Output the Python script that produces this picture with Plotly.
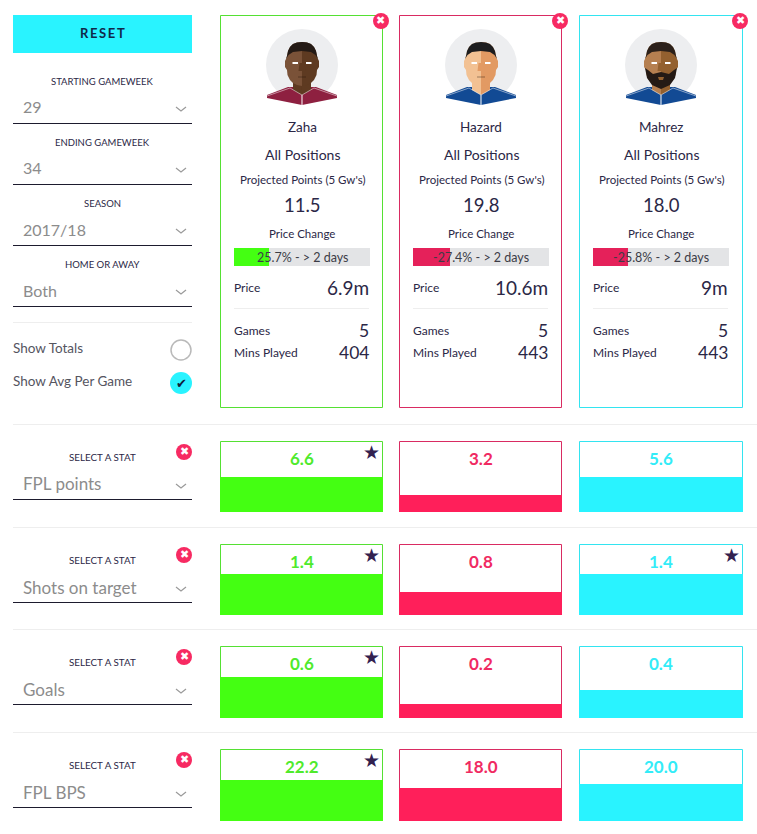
import plotly.graph_objects as go

W = 757
H = 834
FONT = "Lato"

DARK = "#2b2746"
GREY = "#8c8c8c"
LINE = "#eeeeee"
PINK_X = "#f72a62"
CYAN = "#29f3ff"

players = ["Zaha", "Hazard", "Mahrez"]
positions = ["All Positions", "All Positions", "All Positions"]
projected = ["11.5", "19.8", "18.0"]
price_change = [25.7, -27.4, -25.8]
price_change_note = "> 2 days"
prices = ["6.9m", "10.6m", "9m"]
games = ["5", "5", "5"]
mins_played = ["404", "443", "443"]

fill_colors = ["#44ff12", "#ff1f5a", "#29f3ff"]
border_colors = ["#55e033", "#d92b62", "#33e4f0"]
text_colors = ["#4fea2c", "#f02a62", "#33ecf8"]
price_colors = ["#44ff12", "#e5215a", "#e5215a"]

filter_labels = ["STARTING GAMEWEEK", "ENDING GAMEWEEK", "SEASON", "HOME OR AWAY"]
filter_values = ["29", "34", "2017/18", "Both"]

stat_names = ["FPL points", "Shots on target", "Goals", "FPL BPS"]
stat_labels = [
    ["6.6", "3.2", "5.6"],
    ["1.4", "0.8", "1.4"],
    ["0.6", "0.2", "0.4"],
    ["22.2", "18.0", "20.0"],
]
# share of each box that is filled
stat_fill = [
    [49, 24, 49],
    [58, 33, 58],
    [57, 20, 39],
    [57, 46, 52],
]
stat_star = [
    [True, False, False],
    [True, False, True],
    [True, False, False],
    [True, False, False],
]

card_left = [220, 399, 579]
card_right = [383, 562, 743]
card_mid = [302, 481, 661]
bar_left = [234, 413, 593]
row_top = [441, 544, 646, 749]
row_bottom = [512, 615, 718, 821]

skin_light = ["#7a5238", "#f2c193", "#b57f50"]
skin_dark = ["#5e3a21", "#e29a63", "#93602f"]
hair_color = ["#241a15", "#1d1d1f", "#2b201a"]
shirt_color = ["#8e2040", "#124a94", "#124a94"]
has_beard = [False, False, True]

shapes = []
annotations = []


def fx(x):
    return x / W


def fy(y):
    return 1 - y / H


def text(x, y, s, size, color=DARK, anchor="center", bold=False, font=FONT):
    annotations.append(dict(
        x=fx(x), y=fy(y), xref="paper", yref="paper", text=f"<b>{s}</b>" if bold else s,
        showarrow=False, xanchor=anchor, yanchor="middle", borderpad=0, borderwidth=0,
        font=dict(family=font, size=size, color=color),
    ))


def rect(x0, y0, x1, y1, fill, line=None):
    # half pixel keeps the outline crisp
    pad = 0.5 if line else 0
    shapes.append(dict(
        type="rect", xref="paper", yref="paper", x0=fx(x0 + pad), x1=fx(x1 - pad), y0=fy(y0 + pad), y1=fy(y1 - pad),
        fillcolor=fill, line=dict(color=line, width=1) if line else dict(width=0), layer="below",
    ))


def rule(x0, x1, y, color, width=1):
    shapes.append(dict(
        type="line", xref="paper", yref="paper", x0=fx(x0), x1=fx(x1), y0=fy(y + 0.5), y1=fy(y + 0.5),
        line=dict(color=color, width=width), layer="below",
    ))


def circle(cx, cy, r, fill, line=None, width=1.5):
    shapes.append(dict(
        type="circle", xref="paper", yref="paper", x0=fx(cx - r), x1=fx(cx + r),
        y0=fy(cy - r), y1=fy(cy + r), fillcolor=fill,
        line=dict(color=line, width=width) if line else dict(width=0), layer="above",
    ))


def poly(points, fill=None, line=None, width=1):
    d = "M" + " L".join(f"{fx(x):.5f},{fy(y):.5f}" for x, y in points)
    shapes.append(dict(
        type="path", xref="paper", yref="paper", path=d + (" Z" if fill else ""),
        fillcolor=fill, line=dict(color=line, width=width) if line else dict(width=0), layer="above",
    ))


def chevron(cx, cy):
    poly([(cx - 5, cy - 2), (cx, cy + 2), (cx + 5, cy - 2)], line="#9a9a9a", width=1.2)


def close_button(cx, cy):
    circle(cx, cy, 8, PINK_X)
    text(cx, cy - 0.5, "✖", 11, "white", font="DejaVu Sans")


def dropdown(value, y_text, y_line, size=16):
    text(23, y_text - 1, value, size, GREY, "left")
    chevron(181, y_text + 1)
    rule(13, 192, y_line, "#1d1b2e")


def face(i):
    cx = card_mid[i]
    cy = 65
    circle(cx, cy, 36, "#edeef0")

    def at(points, sign=1):
        return [(cx + sign * x, cy + y) for x, y in points]

    poly(at([(0, 40), (-35, 33), (-35, 30), (-14, 22), (14, 22), (35, 30), (35, 33)]), shirt_color[i])
    half = [(0, -23), (5, -22.5), (9, -21), (12, -18), (14, -14), (15, -9), (16, -6), (17, -4), (17, 2),
            (15, 5), (14.5, 10), (12, 15), (9, 18), (5, 20), (0, 21)]
    neck = [(0, 30), (9, 25), (9, 12), (0, 12)]
    hair = [(0, -23), (5, -22.5), (9, -21), (12, -18), (14, -14), (15, -9), (16, -6), (13.5, -10), (9, -13), (0, -14)]
    poly(at(neck, -1), skin_dark[i] if i == 0 else skin_light[i])
    poly(at(neck), skin_dark[i])
    poly(at(half, -1), skin_light[i])
    poly(at(half), skin_dark[i])
    poly(at(hair), hair_color[i])
    poly(at(hair, -1), hair_color[i])
    poly(at([(-2.5, -2), (2.5, -2), (3.5, 6), (-3.5, 6)]), skin_dark[i])
    if has_beard[i]:
        poly(at([(-16, 3), (-13, 5), (-8, 9), (0, 7), (8, 9), (13, 5), (16, 3), (14, 13), (9, 20), (0, 24), (-9, 20), (-14, 13)]), "#241a15")
        poly(at([(-3, 12), (3, 12), (2, 15), (-2, 15)]), skin_dark[i])
    else:
        poly(at([(-4, 12), (4, 12)]), line="rgba(30,15,5,0.4)")
    for sign in (-1, 1):
        poly(at([(4, -3), (9.5, -3), (9.5, -1), (4, -1)], sign), "white")
    poly(at([(-35, 31), (-12, 23), (0, 30), (12, 23), (35, 31)]), line="rgba(255,255,255,0.5)")
    poly(at([(0, 30), (0, 40)]), line="white")


fig = go.Figure()
axis_no = 0


def bar_axes(x0, x1, y0, y1, xrange, yrange):
    global axis_no
    axis_no += 1
    hidden = dict(visible=False, fixedrange=True)
    fig.update_layout(**{
        f"xaxis{axis_no}": dict(domain=[fx(x0), fx(x1)], range=xrange, anchor=f"y{axis_no}", **hidden),
        f"yaxis{axis_no}": dict(domain=[fy(y1), fy(y0)], range=yrange, anchor=f"x{axis_no}", **hidden),
    })
    return f"x{axis_no}", f"y{axis_no}"


# left column
rect(13, 15, 192, 53, CYAN)
text(102.5, 33, "R\u2009E\u2009S\u2009E\u2009T", 13, "#10294a", bold=True)
for n, (label, value) in enumerate(zip(filter_labels, filter_values)):
    text(102, 81 + 61 * n, label, 9.5, DARK)
    dropdown(value, 108 + 61 * n, 123 + 61 * n)
rule(13, 192, 322, LINE)
text(13, 348, "Show Totals", 13.5, "#55555f", "left")
text(13, 381, "Show Avg Per Game", 13.5, "#55555f", "left")
circle(181, 350, 10, "white", "#b9b9b9")
circle(181, 383, 11, CYAN)
text(181, 383, "✔", 13, "#10203a", font="DejaVu Sans")

# player cards
for i, name in enumerate(players):
    rect(card_left[i], 15, card_right[i], 408, "white", border_colors[i])
    face(i)
    close_button(card_left[i] + 161, 21)
    mid = card_mid[i]
    text(mid, 127, name, 13.5)
    text(mid, 155, positions[i], 14)
    text(mid, 179, "Projected Points (5 Gw's)", 11.5)
    text(mid, 205, projected[i], 18.5)
    text(mid, 233, "Price Change", 11.5)

    xa, ya = bar_axes(bar_left[i], bar_left[i] + 136, 248, 266, [0, 100], [-0.5, 0.5])
    fig.add_trace(go.Bar(y=[name], x=[100], orientation="h", marker=dict(color="#e3e4e6", line_width=0), xaxis=xa, yaxis=ya))
    fig.add_trace(go.Bar(y=[name], x=[abs(price_change[i])], orientation="h", marker=dict(color=price_colors[i], line_width=0), xaxis=xa, yaxis=ya))
    text(mid, 257, f"{price_change[i]}% - {price_change_note}", 12.5, "#3c3c46")

    right = bar_left[i] + 135
    text(bar_left[i], 287, "Price", 12, anchor="left")
    text(right, 287, prices[i], 19, anchor="right")
    rule(bar_left[i], right, 308, LINE)
    text(bar_left[i], 330, "Games", 12, anchor="left")
    text(right, 330, games[i], 17.5, anchor="right")
    text(bar_left[i], 352, "Mins Played", 12, anchor="left")
    text(right, 352, mins_played[i], 17.5, anchor="right")

# stat rows
for r, stat in enumerate(stat_names):
    top = row_top[r]
    bottom = row_bottom[r]
    rule(13, W, top - 17, LINE)
    text(102, top + 16, "SELECT A STAT", 9.8, DARK)
    close_button(184, top + 11)
    dropdown(stat, top + 44, top + 58, size=17)
    for i, name in enumerate(players):
        rect(card_left[i], top, card_right[i], bottom, "white", border_colors[i])
        xa, ya = bar_axes(card_left[i], card_right[i], top, bottom, [-0.5, 0.5], [0, 100])
        fig.add_trace(go.Bar(x=[name], y=[stat_fill[r][i]], marker=dict(color=fill_colors[i], line_width=0), xaxis=xa, yaxis=ya))
        text(card_mid[i], top + 17, stat_labels[r][i], 17, text_colors[i], bold=True)
        if stat_star[r][i]:
            text(card_right[i] - 12, top + 11, "★", 19, "#32214f", font="DejaVu Sans")

fig.update_traces(hoverinfo="skip", width=1)
fig.update_layout(
    width=W, height=H, autosize=False, margin=dict(l=0, r=0, t=0, b=0),
    paper_bgcolor="white", plot_bgcolor="rgba(0,0,0,0)",
    barmode="overlay", bargap=0, showlegend=False,
    shapes=shapes, annotations=annotations,
)
fig.write_html("out.html", post_script="document.body.style.margin='0'", config=dict(displayModeBar=False))
